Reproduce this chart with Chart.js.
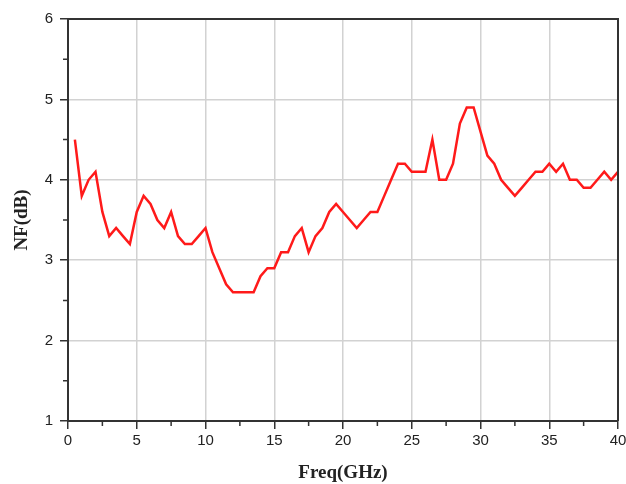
<!DOCTYPE html>
<html lang="en">
<head>
    <meta charset="UTF-8">
    <title>NF vs Freq</title>
    <script src="https://cdn.jsdelivr.net/npm/chart.js@4.4.0/dist/chart.umd.min.js"></script>
    <style>
        html, body { margin: 0; padding: 0; background: #fff; }
        #wrap { width: 626px; height: 484px; }
    </style>
</head>
<body>
<div id="wrap"><canvas id="nfChart" width="626" height="484"></canvas></div>
<script>
    // frequency points (GHz)
    const freq = [
        0.5, 1, 1.5, 2, 2.5, 3, 3.5, 4, 4.5, 5,
        5.5, 6, 6.5, 7, 7.5, 8, 8.5, 9, 9.5, 10,
        10.5, 11, 11.5, 12, 12.5, 13, 13.5, 14, 14.5, 15,
        15.5, 16, 16.5, 17, 17.5, 18, 18.5, 19, 19.5, 20,
        20.5, 21, 21.5, 22, 22.5, 23, 23.5, 24, 24.5, 25,
        25.5, 26, 26.5, 27, 27.5, 28, 28.5, 29, 29.5, 30,
        30.5, 31, 31.5, 32, 32.5, 33, 33.5, 34, 34.5, 35,
        35.5, 36, 36.5, 37, 37.5, 38, 38.5, 39, 39.5, 40
    ];
    // noise figure (dB)
    const nf = [
        4.5, 3.8, 4.0, 4.1, 3.6, 3.3, 3.4, 3.3, 3.2, 3.6,
        3.8, 3.7, 3.5, 3.4, 3.6, 3.3, 3.2, 3.2, 3.3, 3.4,
        3.1, 2.9, 2.7, 2.6, 2.6, 2.6, 2.6, 2.8, 2.9, 2.9,
        3.1, 3.1, 3.3, 3.4, 3.1, 3.3, 3.4, 3.6, 3.7, 3.6,
        3.5, 3.4, 3.5, 3.6, 3.6, 3.8, 4.0, 4.2, 4.2, 4.1,
        4.1, 4.1, 4.5, 4.0, 4.0, 4.2, 4.7, 4.9, 4.9, 4.6,
        4.3, 4.2, 4.0, 3.9, 3.8, 3.9, 4.0, 4.1, 4.1, 4.2,
        4.1, 4.2, 4.0, 4.0, 3.9, 3.9, 4.0, 4.1, 4.0, 4.1
    ];
    const xMin = 0, xMax = 40, xMajor = 5, xMinor = 2.5;
    const yMin = 1, yMax = 6, yMajor = 1, yMinor = 0.5;

    const axisColor = '#333';
    const gridColor = '#d2d2d2';
    const tickFont = { family: "'Liberation Sans', Arial, sans-serif", size: 15 };
    const titleFont = { family: "'Liberation Serif', 'Times New Roman', serif", size: 19, weight: 'bold' };

    let isMajor = (v, step) => Math.abs(v / step - Math.round(v / step)) < 1e-6;

    // box around the plot + short minor ticks
    const frame = {
        id: 'frame',
        afterDraw(chart) {
            const { ctx, chartArea: a, scales } = chart;
            ctx.save();
            ctx.strokeStyle = axisColor;
            ctx.lineWidth = 2;
            ctx.beginPath();
            ctx.moveTo(a.left, a.top);
            ctx.lineTo(a.right, a.top);
            ctx.lineTo(a.right, a.bottom);
            ctx.stroke();
            ctx.lineWidth = 1.5;
            ctx.beginPath();
            scales.x.ticks.forEach(t => {
                if (!isMajor(t.value, xMajor)) {
                    const px = scales.x.getPixelForValue(t.value);
                    ctx.moveTo(px, a.bottom);
                    ctx.lineTo(px, a.bottom + 5);
                }
            });
            scales.y.ticks.forEach(t => {
                if (!isMajor(t.value, yMajor)) {
                    const py = scales.y.getPixelForValue(t.value);
                    ctx.moveTo(a.left, py);
                    ctx.lineTo(a.left - 5, py);
                }
            });
            ctx.stroke();
            ctx.restore();
        }
    };

    new Chart(document.getElementById('nfChart'), {
        type: 'line',
        data: {
            datasets: [{
                data: freq.map((f, i) => ({ x: f, y: nf[i] })),
                borderColor: '#ff1a1a',
                borderWidth: 2.5,
                pointRadius: 0,
                tension: 0,
                fill: false,
            }]
        },
        options: {
            responsive: false,
            animation: false,
            layout: { padding: { top: 19, right: 8, left: 0, bottom: 0 } },
            plugins: { legend: { display: false }, tooltip: { enabled: false } },
            scales: {
                x: {
                    type: 'linear',
                    min: xMin,
                    max: xMax,
                    afterFit: s => { s.height = 63; s.paddingLeft = 0; s.paddingRight = 0; },
                    border: { color: axisColor, width: 2 },
                    grid: {
                        color: c => (isMajor(c.tick.value, xMajor) && c.tick.value > xMin && c.tick.value < xMax) ? gridColor : 'rgba(0,0,0,0)',
                        lineWidth: 1.5,
                        tickColor: c => isMajor(c.tick.value, xMajor) ? axisColor : 'rgba(0,0,0,0)',
                        tickWidth: 1.5,
                        tickLength: 8,
                    },
                    ticks: {
                        stepSize: xMinor,
                        autoSkip: false,
                        maxRotation: 0,
                        padding: 3,
                        color: '#222',
                        font: tickFont,
                        callback: v => isMajor(v, xMajor) ? v : '',
                    },
                    title: {
                        display: true,
                        text: 'Freq(GHz)',
                        color: '#222',
                        font: titleFont,
                        padding: { top: 0, bottom: 0 },
                    },
                },
                y: {
                    min: yMin,
                    max: yMax,
                    afterFit: s => { s.width = 68; },
                    border: { color: axisColor, width: 2 },
                    grid: {
                        color: c => (isMajor(c.tick.value, yMajor) && c.tick.value > yMin && c.tick.value < yMax) ? gridColor : 'rgba(0,0,0,0)',
                        lineWidth: 1.5,
                        tickColor: c => isMajor(c.tick.value, yMajor) ? axisColor : 'rgba(0,0,0,0)',
                        tickWidth: 1.5,
                        tickLength: 8,
                    },
                    ticks: {
                        stepSize: yMinor,
                        autoSkip: false,
                        padding: 7,
                        color: '#222',
                        font: tickFont,
                        callback: v => isMajor(v, yMajor) ? v : '',
                    },
                    title: {
                        display: true,
                        text: 'NF(dB)',
                        color: '#222',
                        font: titleFont,
                        padding: { top: 11, bottom: 0 },
                    },
                },
            },
        },
        plugins: [frame],
    });
</script>
</body>
</html>
